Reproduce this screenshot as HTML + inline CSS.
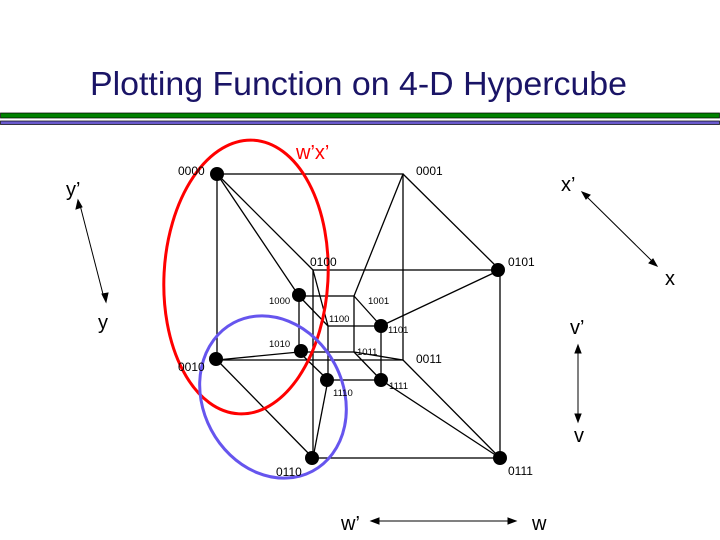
<!DOCTYPE html>
<html><head><meta charset="utf-8"><style>
html,body{margin:0;padding:0;background:#fff;width:720px;height:540px;overflow:hidden}
</style></head><body>
<svg width="720" height="540" xmlns="http://www.w3.org/2000/svg" font-family="Liberation Sans, sans-serif">
<text x="90" y="95" textLength="537" lengthAdjust="spacingAndGlyphs" font-size="33" fill="#1a1466" font-family="Liberation Sans, sans-serif">Plotting Function on  4-D Hypercube</text>
<rect x="0.5" y="113" width="719" height="5" fill="#008000" stroke="#000" stroke-width="0.7"/>
<rect x="0.5" y="121" width="719" height="3.5" fill="#6a5acd" stroke="#000" stroke-width="0.7"/>
<g stroke="#000" stroke-width="1.3" fill="none">
<rect x="217" y="174" width="186" height="186"/>
<rect x="313" y="270" width="187" height="188"/>
<line x1="217" y1="174" x2="313" y2="270"/>
<line x1="403" y1="174" x2="500" y2="270"/>
<line x1="217" y1="360" x2="313" y2="458"/>
<line x1="403" y1="360" x2="500" y2="458"/>
<rect x="299" y="296" width="55" height="56"/>
<rect x="328" y="326" width="53" height="54"/>
<line x1="299" y1="296" x2="328" y2="326"/>
<line x1="354" y1="296" x2="381" y2="326"/>
<line x1="299" y1="352" x2="328" y2="380"/>
<line x1="354" y1="352" x2="381" y2="380"/>
<line x1="217" y1="174" x2="299" y2="296"/>
<line x1="403" y1="174" x2="354" y2="296"/>
<line x1="217" y1="360" x2="299" y2="352"/>
<line x1="403" y1="360" x2="354" y2="352"/>
<line x1="313" y1="270" x2="328" y2="326"/>
<line x1="500" y1="270" x2="381" y2="326"/>
<line x1="313" y1="458" x2="328" y2="380"/>
<line x1="500" y1="458" x2="381" y2="380"/>
</g>
<g fill="#000">
<circle cx="217" cy="174" r="7"/><circle cx="498" cy="270" r="7"/>
<circle cx="299" cy="295" r="7"/><circle cx="381" cy="326" r="7"/>
<circle cx="216" cy="359" r="7"/><circle cx="301" cy="351" r="7"/>
<circle cx="327" cy="380" r="7"/><circle cx="381" cy="380" r="7"/>
<circle cx="312" cy="458" r="7"/><circle cx="500" cy="458" r="7"/>
</g>
<ellipse cx="246" cy="277" rx="82" ry="137" transform="rotate(3 246 277)" fill="none" stroke="#ff0000" stroke-width="3"/>
<ellipse cx="273" cy="397" rx="70" ry="84" transform="rotate(-28 273 397)" fill="none" stroke="#6655ee" stroke-width="3"/>
<g font-size="12" fill="#000">
<text x="178" y="175">0000</text><text x="416" y="175">0001</text>
<text x="310" y="266">0100</text><text x="508" y="266">0101</text>
<text x="178" y="371">0010</text><text x="416" y="363">0011</text>
<text x="276" y="476">0110</text><text x="508" y="475">0111</text>
</g>
<g font-size="9.5" fill="#000">
<text x="269" y="304">1000</text><text x="368" y="304">1001</text>
<text x="329" y="322">1100</text><text x="388" y="333">1101</text>
<text x="269" y="347">1010</text><text x="357" y="355">1011</text>
<text x="333" y="396">1110</text><text x="389" y="389">1111</text>
</g>
<text x="296" y="159" font-size="20" fill="#ff0000">w’x’</text>
<g font-size="20" fill="#000">
<text x="66" y="196">y’</text><text x="98" y="329">y</text>
<text x="561" y="191">x’</text><text x="665" y="285">x</text>
<text x="570" y="334">v’</text><text x="574" y="442">v</text>
<text x="341" y="530">w’</text><text x="532" y="530">w</text>
</g>
<g stroke="#000" stroke-width="1" fill="#000">
<line x1="80" y1="205" x2="104" y2="298"/>
<polygon points="78,200 76,209 82,207"/><polygon points="106,302 102,294 108,293"/>
<line x1="585" y1="195" x2="654" y2="263"/>
<polygon points="582,192 590,195 586,199"/><polygon points="657,266 649,263 653,259"/>
<line x1="578" y1="349" x2="578" y2="418"/>
<polygon points="578,345 575,353 581,353"/><polygon points="578,422 575,414 581,414"/>
<line x1="375" y1="521" x2="512" y2="521"/>
<polygon points="371,521 379,518 379,524"/><polygon points="516,521 508,518 508,524"/>
</g>
</svg>
</body></html>
